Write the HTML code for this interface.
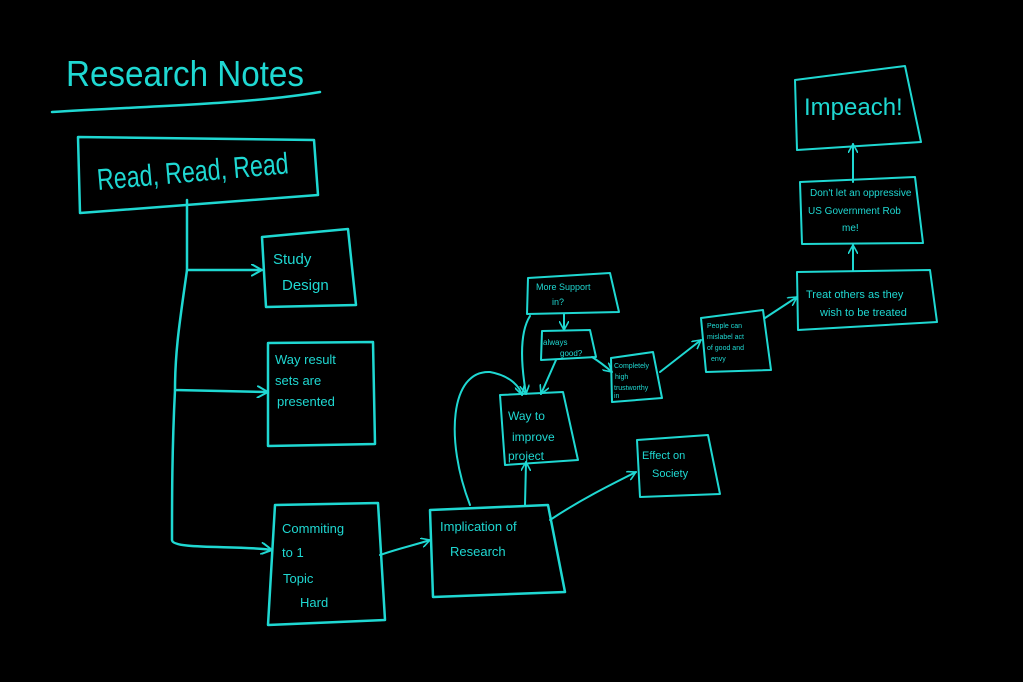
<!DOCTYPE html>
<html><head><meta charset="utf-8"><style>
html,body{margin:0;padding:0;background:#000;}
svg{display:block}
text{font-family:"Liberation Sans",sans-serif;fill:#1fd8d2;}
</style></head><body>
<svg width="1023" height="682" viewBox="0 0 1023 682" xmlns="http://www.w3.org/2000/svg">
<defs><marker id="a" viewBox="0 0 10 10" refX="9" refY="5" markerWidth="5" markerHeight="5" orient="auto"><path d="M0,0 L9,5 L0,10" fill="none" stroke="#1fd8d2" stroke-width="1.6"/></marker></defs>
<g fill="none" stroke="#1fd8d2" stroke-width="2.5" stroke-linejoin="round" stroke-linecap="round">
<path d="M52,112 C150,106 250,104 320,92"/>
<polygon points="78,137 314,140 318,195 80,213"/>
<polygon points="262,237 348,229 356,305 266,307"/>
<polygon points="268,343 373,342 375,444 268,446"/>
<polygon points="275,505 378,503 385,620 268,625"/>
<polygon points="430,510 548,505 565,592 433,597"/>
<g stroke-width="2">
<polygon points="500,395 563,392 578,460 505,465"/>
<polygon points="637,440 708,435 720,494 640,497"/>
<polygon points="528,278 610,273 619,312 527,314"/>
<polygon points="542,331 590,330 596,357 541,360"/>
<polygon points="611,358 653,352 662,398 612,402"/>
<polygon points="701,318 763,310 771,370 706,372"/>
<polygon points="797,272 930,270 937,322 798,330"/>
<polygon points="800,182 915,177 923,243 802,244"/>
<polygon points="795,80 905,66 921,142 797,150"/>
</g>
<path d="M187,200 L187,270 L262,270" marker-end="url(#a)"/>
<path d="M187,270 C180,320 175,350 175,390 L268,392" marker-end="url(#a)"/>
<path d="M175,390 C172,450 172,500 172,540 C172,550 240,545 272,550" marker-end="url(#a)"/>
<g stroke-width="2">
<path d="M380,555 C400,548 415,545 430,540" marker-end="url(#a)"/>
<path d="M525,505 L526,462" marker-end="url(#a)"/>
<path d="M470,505 C445,440 450,370 490,372 C512,376 520,388 522,395" marker-end="url(#a)"/>
<path d="M550,520 C580,500 610,485 636,472" marker-end="url(#a)"/>
<path d="M564,314 L564,330" marker-end="url(#a)"/>
<path d="M530,316 C518,335 522,370 526,394" marker-end="url(#a)"/>
<path d="M556,360 L541,394" marker-end="url(#a)"/>
<path d="M592,357 C600,362 605,366 612,372" marker-end="url(#a)"/>
<path d="M660,372 L701,340" marker-end="url(#a)"/>
<path d="M765,318 L797,297" marker-end="url(#a)"/>
<path d="M853,270 L853,245" marker-end="url(#a)"/>
<path d="M853,182 L853,144" marker-end="url(#a)"/>
</g>
</g>
<text x="66" y="86" font-size="36" textLength="238" lengthAdjust="spacingAndGlyphs">Research Notes</text>
<text x="98" y="190" font-size="30" textLength="192" lengthAdjust="spacingAndGlyphs" transform="rotate(-5 98 190)">Read, Read, Read</text>
<text x="273" y="264" font-size="15">Study</text>
<text x="282" y="290" font-size="15">Design</text>
<text x="275" y="364" font-size="13">Way result</text>
<text x="275" y="385" font-size="13">sets are</text>
<text x="277" y="406" font-size="13">presented</text>
<text x="282" y="533" font-size="13">Commiting</text>
<text x="282" y="557" font-size="13">to 1</text>
<text x="283" y="583" font-size="13">Topic</text>
<text x="300" y="607" font-size="13">Hard</text>
<text x="440" y="531" font-size="13">Implication of</text>
<text x="450" y="556" font-size="13">Research</text>
<text x="508" y="420" font-size="12">Way to</text>
<text x="512" y="441" font-size="12">improve</text>
<text x="508" y="460" font-size="12">project</text>
<text x="642" y="459" font-size="11">Effect on</text>
<text x="652" y="477" font-size="11">Society</text>
<text x="536" y="290" font-size="9">More Support</text>
<text x="552" y="305" font-size="9">in?</text>
<text x="543" y="345" font-size="8">always</text>
<text x="560" y="356" font-size="8">good?</text>
<text x="614" y="368" font-size="7">Completely</text>
<text x="615" y="379" font-size="7">high</text>
<text x="614" y="390" font-size="7">trustworthy</text>
<text x="614" y="398" font-size="7">in</text>
<text x="707" y="328" font-size="7">People can</text>
<text x="707" y="339" font-size="7">mislabel act</text>
<text x="707" y="350" font-size="7">of good and</text>
<text x="711" y="361" font-size="7">envy</text>
<text x="806" y="298" font-size="11">Treat others as they</text>
<text x="820" y="316" font-size="11">wish to be treated</text>
<text x="810" y="196" font-size="10">Don't let an oppressive</text>
<text x="808" y="214" font-size="10">US Government Rob</text>
<text x="842" y="231" font-size="10">me!</text>
<text x="804" y="115" font-size="24">Impeach!</text>
</svg>
</body></html>
